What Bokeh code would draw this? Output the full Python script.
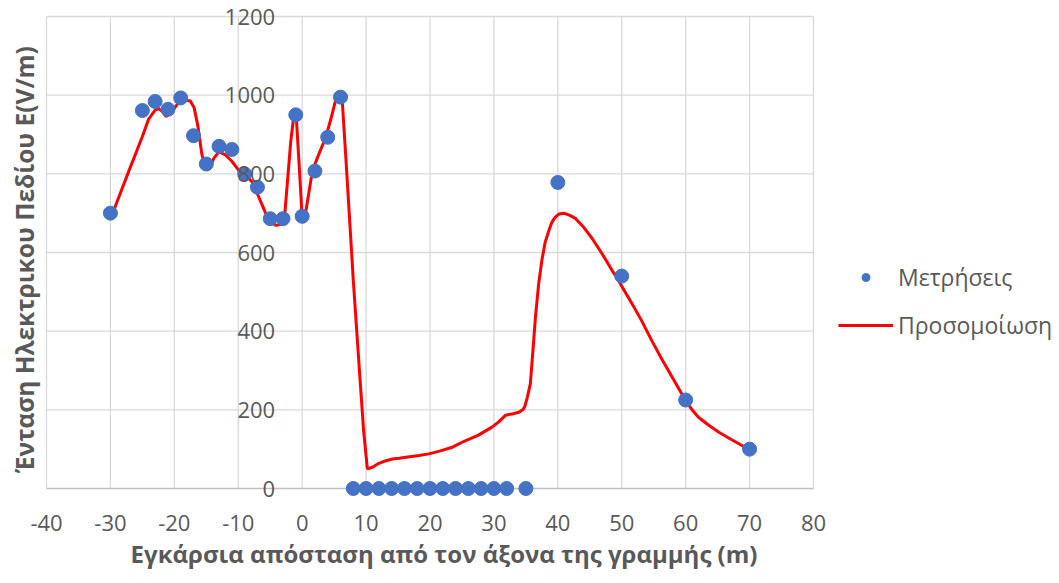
import math
from bokeh.plotting import figure
from bokeh.models import (Legend, LegendItem, Range1d, LabelSet, Label, ColumnDataSource)
from bokeh.core.properties import value
from bokeh.embed import file_html
from bokeh.resources import INLINE

# Measurements (Μετρήσεις)
meas_x = [-30, -25, -23, -21, -19, -17, -15, -13, -11, -9, -7, -5, -3, -1, 0, 2, 4, 6,
          8, 10, 12, 14, 16, 18, 20, 22, 24, 26, 28, 30, 32, 35,
          40, 50, 60, 70]
meas_y = [700, 961, 984, 964, 993, 897, 825, 870, 862, 800, 766, 686, 686, 950, 692, 807, 893, 995,
          0, 0, 0, 0, 0, 0, 0, 0, 0, 0, 0, 0, 0, 0,
          778, 540, 225, 100]

# Simulation (Προσομοίωση)
sim_x = [-30, -27, -25, -24, -23, -22.5, -22, -21.3, -20.5, -19.5, -18.5, -17.5, -16.9, -16.3,
         -15.7, -15.05, -14.5, -13.8, -13, -12, -11, -9.8, -8.8, -7.8, -6.5, -5.2, -4.1, -3.3,
         -2.8, -2.3, -1.8, -1.3, -0.9, -0.5, 0, 0.6, 1.6, 2.6, 3.7, 4.5, 5.2, 5.8, 6.3, 6.8,
         7.4, 8.0, 9.0, 9.6, 10.2, 11, 12, 13, 14.1, 15.2, 16.5, 18.3, 19.8, 21.5, 23.5, 25.6,
         27.5, 29.7, 30.8, 31.8, 33, 33.9, 34.5, 34.8, 35.2, 35.7, 36.1, 36.5, 37, 37.5, 38,
         38.6, 39.1, 39.6, 40.2, 40.9, 41.8, 42.8, 44, 45.4, 47, 48.5, 49.5, 50.5, 51.6, 53,
         54.7, 56.3, 57.9, 59, 60, 61, 62, 63.5, 65.2, 67, 69.3, 70]
sim_y = [685, 812, 895, 940, 962, 966, 960, 946, 955, 978, 988, 985, 968, 920,
         850, 810, 815, 840, 856, 848, 832, 806, 795, 779, 730, 680, 669, 672,
         682, 780, 880, 948, 940, 830, 690, 707, 808, 850, 893, 940, 985, 995, 978, 850,
         690, 529, 290, 150, 50, 54, 64, 70, 75, 77, 80, 84, 88, 95, 105, 122,
         135, 156, 170, 186, 190, 194, 200, 207, 230, 266, 350, 436, 520, 580, 625,
         656, 678, 690, 698, 700, 695, 686, 665, 635, 595, 554, 529, 500, 470, 430,
         376, 328, 283, 252, 224, 200, 181, 162, 143, 126, 105, 100]

x_ticks = [-40, -30, -20, -10, 0, 10, 20, 30, 40, 50, 60, 70, 80]
y_ticks = [0, 200, 400, 600, 800, 1000, 1200]
x_tick_labels = [str(v) for v in x_ticks]
y_tick_labels = [str(v) for v in y_ticks]

x_title = "Εγκάρσια απόσταση από τον άξονα της γραμμής (m)"
y_title = "Ένταση Ηλεκτρικου Πεδίου E(V/m)"
labels = ["Μετρήσεις", "Προσομοίωση"]

FONT = "Open Sans"
GREY = "#595959"
GRID = "#d9d9d9"
AXIS = "#bfbfbf"

# layout: plot area (data -40..80 x 0..1200) occupies 767x472 px at (46,16)
W, H = 1055, 575
PL, PT, PW, PH = 46, 16, 767, 472
x0, x1 = x_ticks[0], x_ticks[-1]
y0, y1 = y_ticks[0], y_ticks[-1]
ppx = PW / (x1 - x0)
ppy = PH / (y1 - y0)

p = figure(width=W, height=H, output_backend="svg", toolbar_location=None,
           x_axis_location=None, y_axis_location=None, min_border=0,
           x_range=Range1d(x0 - PL / ppx, x0 + (W - PL) / ppx),
           y_range=Range1d(y0 - (H - PT - PH) / ppy, y1 + PT / ppy))
p.grid.visible = False
p.outline_line_color = None
p.background_fill_color = "white"
p.border_fill_color = "white"

# gridlines (Excel style), spanning only the plot area
nx, ny = len(x_ticks), len(y_ticks)
p.segment(x0=x_ticks, y0=[y0] * nx, x1=x_ticks, y1=[y1] * nx,
          line_color=GRID, line_width=1.3)
p.segment(x0=[x0] * ny, y0=y_ticks, x1=[x1] * ny, y1=y_ticks,
          line_color=[AXIS if v == 0 else GRID for v in y_ticks], line_width=1.3)

# tick labels: x along the bottom, y along the x = 0 line (axis crosses at 0)
xsrc = ColumnDataSource(dict(x=x_ticks, y=[y0] * nx, t=x_tick_labels))
p.add_layout(LabelSet(x="x", y="y", text="t", source=xsrc, y_offset=-34,
                      text_align="center", text_baseline="middle",
                      text_font=value(FONT), text_font_size=value("22px"), text_color=GREY))
ysrc = ColumnDataSource(dict(x=[0] * ny, y=y_ticks, t=y_tick_labels))
p.add_layout(LabelSet(x="x", y="y", text="t", source=ysrc, x_offset=-27,
                      text_align="right", text_baseline="middle",
                      text_font=value(FONT), text_font_size=value("22px"), text_color=GREY))

# axis titles
p.add_layout(Label(x=(x0 + x1) / 2, y=y0, x_offset=14, y_offset=-65, text=x_title,
                   text_align="center", text_baseline="middle", text_font=FONT,
                   text_font_size="24px", text_font_style="bold", text_color=GREY))
p.add_layout(Label(x=x0, y=(y0 + y1) / 2, x_offset=-22, y_offset=-7, text=y_title,
                   angle=math.pi / 2, text_align="center", text_baseline="middle",
                   text_font=FONT, text_font_size="24.5px", text_font_style="bold",
                   text_color=GREY))

line_r = p.line(sim_x, sim_y, line_color="#ff0000", line_width=3)
pts_r = p.scatter(meas_x, meas_y, size=14, fill_color="#4472c4", line_color="#4472c4")

legend = Legend(items=[LegendItem(label=labels[0], renderers=[pts_r]),
                       LegendItem(label=labels[1], renderers=[line_r])],
                location=(838, 234), margin=0, padding=0, spacing=16,
                glyph_width=55, glyph_height=20, label_height=20, label_standoff=5,
                label_text_font=FONT, label_text_font_size="23px", label_text_color=GREY,
                border_line_color=None, background_fill_alpha=0)
p.add_layout(legend)

open("out.html", "w").write(file_html(p, INLINE))
